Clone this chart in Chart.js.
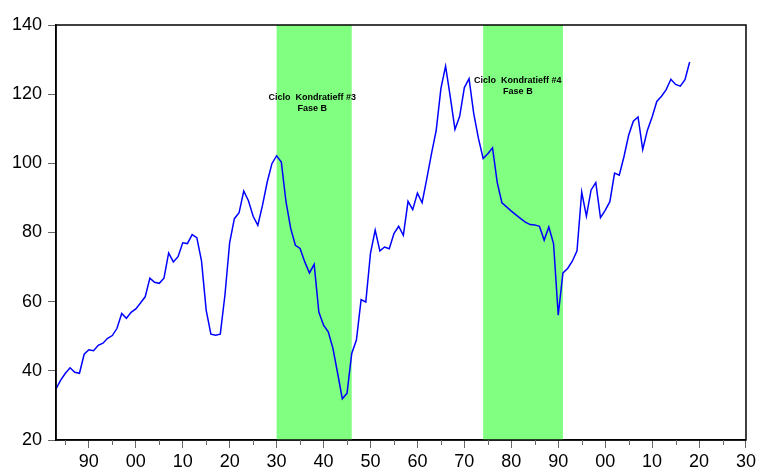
<!DOCTYPE html>
<html>
<head>
<meta charset="utf-8">
<script src="https://cdn.jsdelivr.net/npm/chart.js@4"></script>
<style>
html,body{margin:0;padding:0;background:#fff;}
#wrap{width:759px;height:471px;}
</style>
</head>
<body>
<div id="wrap"><canvas id="c" width="759" height="471"></canvas></div>
<script>
// ---- data ----
const startYear = 1883;
const values = [
 34.8,37.3,39.3,40.9,39.6,39.3,44.8,46.1,45.8,47.4,
 48.0,49.4,50.2,52.3,56.6,55.2,56.9,57.9,59.6,61.4,
 66.8,65.6,65.3,66.8,74.1,71.5,73.0,77.0,76.8,79.4,
 78.5,71.8,57.5,50.6,50.3,50.6,62.0,77.1,84.0,85.7,
 92.0,89.2,84.7,82.1,87.9,94.6,99.9,102.2,100.4,88.9,
 81.2,76.3,75.4,71.5,68.3,70.8,57.0,53.2,51.3,46.5,
 39.3,31.9,33.5,45.0,48.9,60.6,59.9,74.0,80.7,74.7,
 75.8,75.3,79.7,81.8,79.2,89.0,86.6,91.4,88.6,95.6,
 102.8,109.5,121.6,128.1,119.2,109.8,113.6,121.9,124.5,114.4,
 107.2,101.4,102.8,104.5,94.5,88.6,87.4,86.2,85.1,84.0,
 83.0,82.3,82.2,81.8,77.8,81.6,76.8,56.1,68.3,69.6,
 71.7,74.7,91.7,84.7,92.3,94.4,84.3,86.4,88.9,97.2,
 96.6,101.9,108.1,112.2,113.4,104.0,109.6,113.4,117.9,119.4,
 121.3,124.3,122.8,122.3,124.2,129.3
];
const years = values.map((v, i) => startYear + i);
const xMajorTicks = [1890,1900,1910,1920,1930,1940,1950,1960,1970,1980,1990,2000,2010,2020,2030];
const xMinorTicks = [1885,1895,1905,1915,1925,1935,1945,1955,1965,1975,1985,1995,2005,2015,2025];
const yTicks = [20,40,60,80,100,120,140];
const bands = [[1930,1946],[1974,1991]];
const notes = [
  {x:1937.6, y:119.1, lines:['Ciclo  Kondratieff #3','Fase B']},
  {x:1981.4, y:124.0, lines:['Ciclo  Kondratieff #4','Fase B']}
];

const points = years.map((yr, i) => ({x: yr, y: values[i]}));

const bgPlugin = {
  id: 'bands',
  beforeDatasetsDraw(chart) {
    const {ctx, chartArea: a, scales: {x}} = chart;
    ctx.save();
    ctx.fillStyle = '#80FF80';
    bands.forEach(([s, e]) => {
      const x0 = x.getPixelForValue(s), x1 = x.getPixelForValue(e);
      ctx.fillRect(x0, a.top, x1 - x0, a.bottom - a.top);
    });
    ctx.restore();
  },
  afterDatasetsDraw(chart) {
    const {ctx, chartArea: a, scales: {x, y}} = chart;
    ctx.save();
    // notes
    ctx.fillStyle = '#000';
    ctx.font = 'bold 9px "Liberation Sans", Arial, sans-serif';
    ctx.textAlign = 'center';
    ctx.textBaseline = 'middle';
    notes.forEach(n => {
      const px = x.getPixelForValue(n.x), py = y.getPixelForValue(n.y);
      n.lines.forEach((l, i) => ctx.fillText(l, px, py + i * 11));
    });
    // frame
    ctx.strokeStyle = '#000';
    ctx.lineWidth = 1.5;
    ctx.strokeRect(a.left, a.top, a.right - a.left, a.bottom - a.top);
    // minor x ticks
    ctx.strokeStyle = '#666';
    ctx.lineWidth = 1;
    xMinorTicks.forEach(v => {
      const px = Math.round(x.getPixelForValue(v)) + 0.5;
      ctx.beginPath();
      ctx.moveTo(px, a.bottom);
      ctx.lineTo(px, a.bottom + 5);
      ctx.stroke();
    });
    ctx.restore();
  }
};

new Chart(document.getElementById('c'), {
  type: 'line',
  data: {
    datasets: [{
      data: points,
      borderColor: '#0000FF',
      borderWidth: 1.5,
      pointRadius: 0,
      tension: 0,
      fill: false
    }]
  },
  options: {
    responsive: false,
    animation: false,
    events: [],
    layout: {padding: {top: 25, right: 11, left: 0, bottom: 0}},
    plugins: {legend: {display: false}, tooltip: {enabled: false}},
    scales: {
      x: {
        type: 'linear',
        min: 1883,
        max: 2030,
        afterBuildTicks: s => { s.ticks = xMajorTicks.map(v => ({value: v})); },
        afterFit: s => { s.height = 31; },
        grid: {drawOnChartArea: false, drawTicks: true, tickLength: 8, color: '#666'},
        border: {display: true, color: '#000', width: 1.5},
        ticks: {
          color: '#000',
          padding: 3,
          maxRotation: 0,
          autoSkip: false,
          font: {family: '"Liberation Sans", Arial, sans-serif', size: 18},
          callback: v => String(v % 100).padStart(2, '0')
        }
      },
      y: {
        min: 20,
        max: 140,
        afterBuildTicks: s => { s.ticks = yTicks.map(v => ({value: v})); },
        afterFit: s => { s.width = 56; },
        grid: {drawOnChartArea: false, drawTicks: true, tickLength: 8, color: '#666'},
        border: {display: true, color: '#000', width: 1.5},
        ticks: {
          color: '#000',
          padding: 6,
          font: {family: '"Liberation Sans", Arial, sans-serif', size: 18}
        }
      }
    }
  },
  plugins: [bgPlugin]
});
</script>
</body>
</html>
